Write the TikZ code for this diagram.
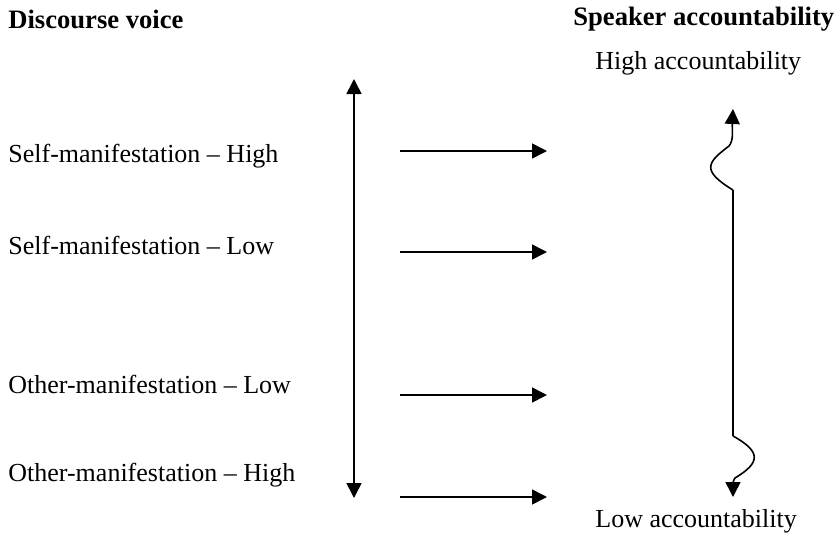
\documentclass[tikz,border=0pt]{standalone}
\usepackage{fontspec}
\setmainfont{Liberation Serif}
\usepackage{tikz}
\usetikzlibrary{arrows.meta,positioning}

\begin{document}
\begin{tikzpicture}[x=0.5pt,y=-0.5pt,
  lbl/.style={anchor=west,inner sep=0pt,font=\fontsize{13}{15}\selectfont},
  hd/.style={lbl,font=\fontsize{13.3}{15}\selectfont\bfseries},
  tip/.tip={Triangle[length=7.5pt,width=7.5pt]},
  arr/.style={-tip,line width=0.8pt}]

\useasboundingbox (0,0) rectangle (837,537);

\node[hd] (voice) at (8,19) {Discourse voice};
\node[hd] (speaker) at (573,19) {Speaker accountability};
\node[lbl] (high) at (595,63) {High accountability};
\node[lbl] (low) at (595,521) {Low accountability};

  \node[lbl] (smh) at (8,156) {Self-manifestation -- High};
  \node[lbl] (sml) at (8,245) {Self-manifestation -- Low};
  \node[lbl] (oml) at (8,384) {Other-manifestation -- Low};
  \node[lbl] (omh) at (8,475) {Other-manifestation -- High};

  \coordinate (vtop) at (354,79);
  \coordinate (vbot) at (354,498);

  \coordinate (a1) at (400,151);
  \coordinate (a2) at (400,252);
  \coordinate (a3) at (400,395);
  \coordinate (a4) at (400,497);
  \coordinate (b1) at (547,151);
  \coordinate (b2) at (547,252);
  \coordinate (b3) at (547,395);
  \coordinate (b4) at (547,497);

  \coordinate (wtop) at (733,109);
  \coordinate (wbot) at (733,497);

  \draw[arr,tip-tip] (vbot) -- (vtop);
  \draw[arr] (a1) -- (b1);
  \draw[arr] (a2) -- (b2);
  \draw[arr] (a3) -- (b3);
  \draw[arr] (a4) -- (b4);
  % wavy scale on the right
  \draw[arr] (733,190) .. controls (700,170) and (708,162) .. (729,146) .. controls (734,140) and (732,130) .. (wtop);
  \draw[line width=0.8pt] (733,190) -- (733,436);
  \draw[arr] (733,436) .. controls (762,452) and (760,463) .. (735,478) .. controls (733,481) and (733,484) .. (wbot);
\end{tikzpicture}
\end{document}
